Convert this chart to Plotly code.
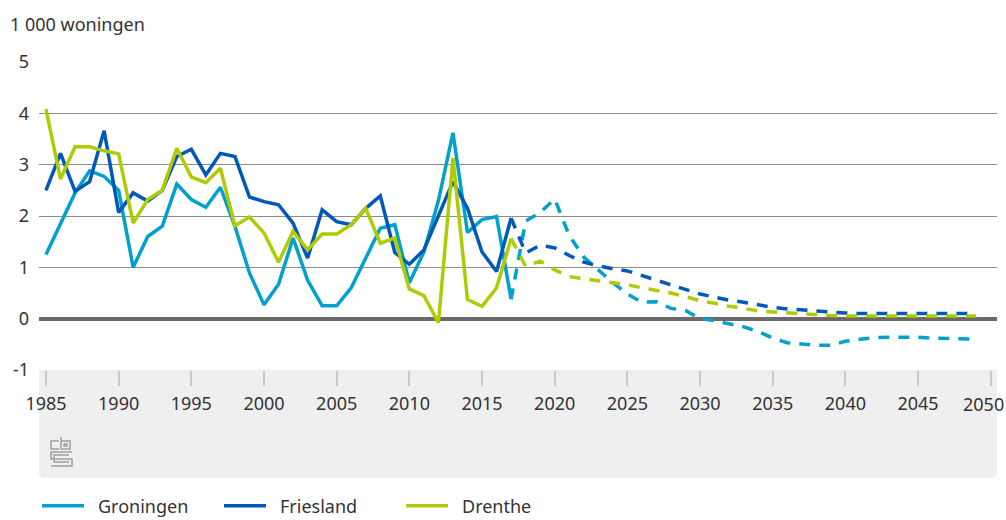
import plotly.graph_objects as go

# ---------------- data ----------------
years_hist = list(range(1985, 2018))
years_fc = list(range(2017, 2050))

groningen_hist = [1.25, 1.85, 2.45, 2.88, 2.77, 2.5, 1.0, 1.6, 1.8, 2.62, 2.32, 2.17, 2.56, 1.8, 0.89,
                  0.27, 0.67, 1.57, 0.75, 0.25, 0.25, 0.6, 1.18, 1.76, 1.83, 0.7, 1.3, 2.3, 3.62,
                  1.68, 1.93, 1.99, 0.38]
friesland_hist = [2.5, 3.22, 2.48, 2.67, 3.66, 2.07, 2.45, 2.29, 2.5, 3.16, 3.3, 2.8, 3.22, 3.16, 2.37,
                  2.28, 2.22, 1.86, 1.18, 2.12, 1.89, 1.83, 2.15, 2.39, 1.29, 1.06, 1.34, 2.0, 2.67,
                  2.15, 1.3, 0.92, 1.96]
drenthe_hist = [4.08, 2.72, 3.35, 3.35, 3.27, 3.21, 1.86, 2.32, 2.5, 3.32, 2.76, 2.65, 2.93, 1.81, 1.98,
                1.67, 1.1, 1.7, 1.34, 1.65, 1.65, 1.83, 2.15, 1.47, 1.57, 0.58, 0.45, -0.08, 3.13,
                0.37, 0.24, 0.6, 1.56]

groningen_fc = [0.38, 1.9, 2.07, 2.33, 1.62, 1.2, 0.95, 0.7, 0.48, 0.32,
                0.33, 0.2, 0.16, 0.0, -0.04, -0.1, -0.16, -0.25, -0.38, -0.47,
                -0.5, -0.52, -0.52, -0.44, -0.4, -0.37, -0.36, -0.36, -0.36, -0.38,
                -0.39, -0.4, -0.4]
friesland_fc = [1.96, 1.28, 1.43, 1.38, 1.23, 1.1, 1.03, 0.97, 0.93, 0.84,
                0.76, 0.67, 0.58, 0.48, 0.42, 0.36, 0.32, 0.27, 0.22, 0.19,
                0.17, 0.14, 0.13, 0.11, 0.1, 0.1, 0.1, 0.1, 0.1, 0.1,
                0.1, 0.1, 0.1]
drenthe_fc = [1.56, 1.02, 1.12, 0.95, 0.82, 0.78, 0.75, 0.7, 0.66, 0.6,
              0.55, 0.5, 0.43, 0.35, 0.3, 0.24, 0.2, 0.15, 0.13, 0.11,
              0.09, 0.07, 0.06, 0.05, 0.05, 0.05, 0.05, 0.05, 0.05, 0.05,
              0.05, 0.05, 0.05]

series_names = ["Groningen", "Friesland", "Drenthe"]
series_colors = ["#00a1cd", "#0058b8", "#afcb05"]

x_ticks = list(range(1985, 2051, 5))
x_ticktext = [str(v) for v in x_ticks[:-1]] + [""]   # last label placed separately
last_tick_label = str(x_ticks[-1])
y_ticks = [-1, 0, 1, 2, 3, 4, 5]
y_ticktext = ["-1", "0", "1", "2", "3", "4", "5"]

FONT = "Noto Sans"
TEXT = "#333333"

# ---------------- figure ----------------
fig = go.Figure()
hist = [groningen_hist, friesland_hist, drenthe_hist]
fc = [groningen_fc, friesland_fc, drenthe_fc]

for name, h, c in zip(series_names, hist, series_colors):
    fig.add_trace(go.Scatter(x=years_hist, y=h, mode="lines", name="\u2002" + name,
                             legendgroup=name,
                             line=dict(color=c, width=3.5), hoverinfo="x+y+name"))
for name, f, c in zip(series_names, fc, series_colors):
    fig.add_trace(go.Scatter(x=years_fc, y=f, mode="lines", name=name, legendgroup=name,
                             showlegend=False,
                             line=dict(color=c, width=3.5, dash="11px,9px"), hoverinfo="x+y+name"))

# plot area in pixels
L, R, T, B = 39, 997, 62, 370
W, H = 1006, 520
pw, ph = R - L, B - T


def P(px, py):
    return (px - L) / pw, (B - py) / ph


# grey band below the x axis (with rounded bottom corners)
yb = P(0, 478)[1]
rx, ry = 6 / pw, 6 / ph
band = (f"M 0,0 L 1,0 L 1,{yb + ry} Q 1,{yb} {1 - rx},{yb} "
        f"L {rx},{yb} Q 0,{yb} 0,{yb + ry} Z")
shapes = [dict(type="path", xref="paper", yref="paper", path=band,
               fillcolor="#efefef", line=dict(width=0), layer="below")]

# simple cbs logo
logo_paths = [
    [(59, 441), (51, 441), (51, 449), (59, 449)],
    [(61, 437), (61, 449), (70, 449), (70, 441), (61, 441)],
    [(64, 444), (67, 444), (67, 446), (64, 446), (64, 444)],
    [(72, 452), (51, 452), (51, 459), (72, 459), (72, 466), (51, 466)],
    [(69, 455), (54, 455), (54, 462), (69, 462)],
]
for pts in logo_paths:
    d = "M " + " L ".join(f"{P(x, y)[0]},{P(x, y)[1]}" for x, y in pts)
    shapes.append(dict(type="path", xref="paper", yref="paper", path=d,
                       line=dict(color="#a0a0a0", width=1.5), layer="above"))

fig.update_layout(
    width=W, height=H, autosize=False,
    margin=dict(l=L, r=W - R, t=T, b=H - B, pad=0, autoexpand=False),
    paper_bgcolor="white", plot_bgcolor="white",
    font=dict(family=FONT, size=18, color=TEXT),
    title=dict(text="1 000 woningen", xref="container", yref="container",
               x=10 / W, xanchor="left", y=1 - 25 / H, yanchor="middle",
               font=dict(family=FONT, size=18, color=TEXT)),
    shapes=shapes,
    showlegend=True,
    legend=dict(orientation="h", x=P(37, 0)[0], xanchor="left",
                y=P(0, 506)[1], yanchor="middle",
                font=dict(family=FONT, size=18, color=TEXT),
                itemwidth=42, entrywidthmode="pixels", entrywidth=125,
                bgcolor="rgba(0,0,0,0)", traceorder="normal"),
    hovermode="closest",
    annotations=[dict(text=last_tick_label, xref="x", x=x_ticks[-1], xshift=-7,
                      yref="paper", y=P(0, 404)[1], yanchor="middle", xanchor="center",
                      showarrow=False, font=dict(family=FONT, size=18, color=TEXT))],
)

fig.update_xaxes(range=[1984.52, 2050.43], tickmode="array", tickvals=x_ticks,
                 ticktext=x_ticktext,
                 ticks="outside", ticklen=15, tickwidth=2, tickcolor="#c8c8c8",
                 ticklabelstandoff=2,
                 showgrid=False, zeroline=False, showline=False,
                 tickfont=dict(family=FONT, size=18, color=TEXT), fixedrange=True)
fig.update_yaxes(range=[-1, 5], tickmode="array", tickvals=y_ticks, ticktext=y_ticktext,
                 showgrid=True, gridcolor="#8c8c8c", gridwidth=1.3,
                 zeroline=True, zerolinecolor="#6a6a6a", zerolinewidth=4,
                 ticks="", ticklabelstandoff=9, showline=False,
                 tickfont=dict(family=FONT, size=18, color=TEXT), fixedrange=True)

fig.write_html("out.html", config={"displayModeBar": False},
               post_script="document.body.style.margin='0px';document.body.style.overflow='hidden';")
